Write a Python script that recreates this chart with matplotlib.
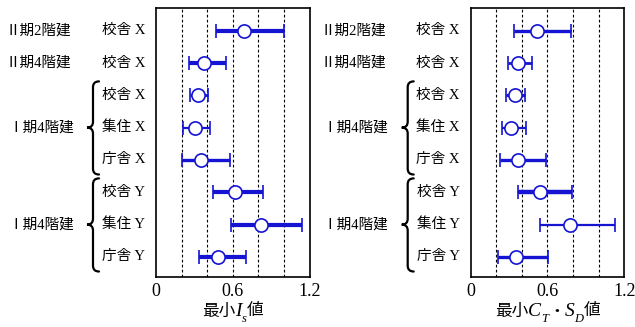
import matplotlib
matplotlib.use("Agg")
import matplotlib.pyplot as plt
from matplotlib.path import Path
from matplotlib.patches import PathPatch
from matplotlib.transforms import blended_transform_factory

plt.rcParams['font.family'] = ['Liberation Serif', 'Noto Sans CJK JP', 'DejaVu Sans']

# ---- data ----
categories = ["校舎 X", "校舎 X", "校舎 X", "集住 X", "庁舎 X", "校舎 Y", "集住 Y", "庁舎 Y"]
groups = ["Ⅱ期2階建", "Ⅱ期4階建", "Ⅰ期4階建", "Ⅰ期4階建"]

is_mid = [0.686, 0.376, 0.331, 0.305, 0.352, 0.621, 0.819, 0.483]
is_low = [0.470, 0.256, 0.266, 0.214, 0.206, 0.449, 0.590, 0.339]
is_high = [1.002, 0.548, 0.407, 0.423, 0.579, 0.840, 1.140, 0.705]

ctsd_mid = [0.516, 0.367, 0.346, 0.315, 0.367, 0.544, 0.776, 0.354]
ctsd_low = [0.341, 0.289, 0.273, 0.242, 0.231, 0.367, 0.541, 0.211]
ctsd_high = [0.784, 0.477, 0.424, 0.432, 0.586, 0.794, 1.127, 0.602]

xticks = [0, 0.6, 1.2]
xtick_labels = ["0", "0.6", "1.2"]
grid_x = [0.2, 0.4, 0.6, 0.8, 1.0]
# x-axis label pieces: (text, kind) kind: c = CJK, i = italic, s = subscript
xlabel_left = [("最小", "c"), ("I", "i"), ("s", "s"), ("値", "c")]
xlabel_right = [("最小", "c"), ("C", "i"), ("T", "s"), ("・", "c"),
                ("S", "i"), ("D", "s"), ("値", "c")]

# styles (line widths per row)
lw_left = [3.0, 3.0, 2.0, 1.6, 2.4, 3.0, 3.0, 3.0]
lw_right = [2.4, 2.0, 2.2, 1.6, 2.4, 3.2, 1.6, 2.4]

W, H = 635, 327
fig = plt.figure(figsize=(W / 100, H / 100), dpi=100)
blue = '#1414d2'

panels = [
    (156.0, is_mid, is_low, is_high, lw_left, xlabel_left),
    (470.7, ctsd_mid, ctsd_low, ctsd_high, lw_right, xlabel_right),
]

def brace(ax, x_tip, x_body, x_end, y_top, y_bot, y_mid, d=0.18):
    tr = blended_transform_factory(fig.transFigure, ax.transData)
    xt, xb, xe = x_tip / W, x_body / W, x_end / W
    verts = [
        (xe, y_top), (xb, y_top), (xb, y_top + d),
        (xb, y_mid - d),
        (xb, y_mid), (xt, y_mid),
        (xb, y_mid), (xb, y_mid + d),
        (xb, y_bot - d),
        (xb, y_bot), (xe, y_bot),
    ]
    codes = [Path.MOVETO, Path.CURVE3, Path.CURVE3,
             Path.LINETO,
             Path.CURVE3, Path.CURVE3,
             Path.CURVE3, Path.CURVE3,
             Path.LINETO,
             Path.CURVE3, Path.CURVE3]
    p = PathPatch(Path(verts, codes), transform=tr, fill=False, lw=1.6,
                  color='black', clip_on=False, capstyle='round')
    fig.add_artist(p)

styles = {
    "c": dict(family=['Noto Sans CJK JP'], fontsize=12),
    "i": dict(family=['Liberation Serif'], style='italic', fontsize=14),
    "s": dict(family=['Liberation Serif'], style='italic', fontsize=9),
}
dy = {"c": 0, "i": 0, "s": -7}

def draw_label(pieces, cx_px, base_px):
    renderer = fig.canvas.get_renderer()
    texts = []
    widths = []
    for t, k in pieces:
        tx = fig.text(0, 0, t, ha='left', va='baseline', **styles[k])
        w = tx.get_window_extent(renderer).width
        texts.append((tx, k))
        widths.append(w)
    total = sum(widths)
    x = cx_px - total / 2
    for (tx, k), w in zip(texts, widths):
        tx.set_position((x / W, (H - base_px + dy[k]) / H))
        x += w

for x0, mid, low, high, lws, xl in panels:
    ax = fig.add_axes([x0 / W, 50 / H, 153.5 / W, 269 / H])
    ypos = list(range(len(categories)))
    for i, y in enumerate(ypos):
        ax.errorbar([mid[i]], [y],
                    xerr=[[mid[i] - low[i]], [high[i] - mid[i]]],
                    fmt='o', color=blue, ecolor=blue, elinewidth=lws[i],
                    capsize=5, capthick=1.3, ms=9.5, mfc='white',
                    mec=blue, mew=1.2, zorder=3)
    for g in grid_x:
        ax.axvline(g, color='black', lw=0.8, ls=(0, (2.5, 2)), zorder=1)
    ax.set_xlim(0, 1.2)
    ax.set_ylim(7.62, -0.7)
    ax.set_yticks([])
    ax.set_xticks(xticks)
    ax.set_xticklabels(xtick_labels, fontsize=13)
    ax.tick_params(axis='x', length=0, pad=4)
    for s in ax.spines.values():
        s.set_linewidth(1.2)

    off = x0 - 156.0
    tr = blended_transform_factory(fig.transFigure, ax.transData)
    for i, c in enumerate(categories):
        ax.text((145 + off) / W, i, c, transform=tr, ha='right', va='center',
                fontsize=10.5)
    ax.text((6 + off) / W, 0, groups[0], transform=tr, ha='left', va='center', fontsize=10.5)
    ax.text((6 + off) / W, 1, groups[1], transform=tr, ha='left', va='center', fontsize=10.5)
    ax.text((8 + off) / W, 3, groups[2], transform=tr, ha='left', va='center', fontsize=10.5)
    ax.text((8 + off) / W, 6, groups[3], transform=tr, ha='left', va='center', fontsize=10.5)
    brace(ax, 87 + off, 93 + off, 99 + off, 1.57, 4.45, 3.0)
    brace(ax, 87 + off, 93 + off, 99 + off, 4.57, 7.45, 6.0)
    draw_label(xl, x0 + 153.5 / 2, 315.5)

fig.savefig('out.png', dpi=100)
